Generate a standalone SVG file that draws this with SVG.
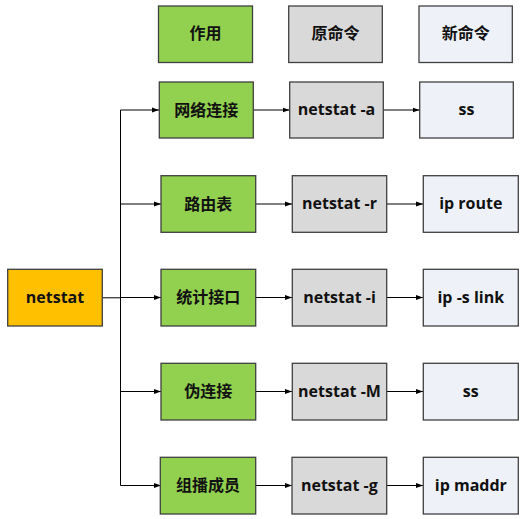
<svg xmlns="http://www.w3.org/2000/svg" width="527" height="519" viewBox="0 0 527 519">
<style>
.b{stroke:#404040;stroke-width:1.3}
.g{fill:#92D050}.y{fill:#D9D9D9}.l{fill:#EEF2F8}.o{fill:#FFC000}
text{font-family:"Open Sans","Noto Sans CJK SC",sans-serif;font-weight:bold;font-size:16px;fill:#111;text-anchor:middle;dominant-baseline:central}
.c{stroke:#000;stroke-width:1;fill:none}
</style>
<defs>
<marker id="a" viewBox="0 0 10 10" refX="10" refY="5" markerWidth="7" markerHeight="7" markerUnits="userSpaceOnUse" orient="auto"><path d="M0,1.5L10,5L0,8.5z" fill="#000"/></marker>
</defs>
<rect width="527" height="519" fill="#fff"/>
<g id="connectors">
<line class="c" x1="102" y1="297.8" x2="120.5" y2="297.8" stroke-width="2"/>
<line class="c" x1="120.5" y1="110" x2="120.5" y2="485.5"/>
<path class="c" d="M120.5,110H159" marker-end="url(#a)"/>
<path class="c" d="M120.5,204H161" marker-end="url(#a)"/>
<path class="c" d="M120.5,297.5H161" marker-end="url(#a)"/>
<path class="c" d="M120.5,391.5H161" marker-end="url(#a)"/>
<path class="c" d="M120.5,485.5H161" marker-end="url(#a)"/>
<path class="c" d="M253.5,110H289.5" marker-end="url(#a)"/>
<path class="c" d="M383.5,110H419.5" marker-end="url(#a)"/>
<path class="c" d="M255.5,204H292" marker-end="url(#a)"/>
<path class="c" d="M386.5,204H423" marker-end="url(#a)"/>
<path class="c" d="M255.5,297.5H292" marker-end="url(#a)"/>
<path class="c" d="M386.5,297.5H423" marker-end="url(#a)"/>
<path class="c" d="M255.5,391.5H292" marker-end="url(#a)"/>
<path class="c" d="M386.5,391.5H423" marker-end="url(#a)"/>
<path class="c" d="M255.5,485.5H292" marker-end="url(#a)"/>
<path class="c" d="M386.5,485.5H423" marker-end="url(#a)"/>
</g>
<g id="h1"><rect class="b g" x="158.5" y="6" width="94" height="56.5"/><text x="205.5" y="33">作用</text></g>
<g id="h2"><rect class="b y" x="288.7" y="6" width="93.6" height="56.5"/><text x="335.5" y="33">原命令</text></g>
<g id="h3"><rect class="b l" x="419" y="6" width="93.3" height="56.5"/><text x="465.7" y="33">新命令</text></g>
<g id="netstat"><rect class="b o" x="7.7" y="269.3" width="94.6" height="56.7"/><text x="55" y="297">netstat</text></g>
<g id="r1a"><rect class="b g" x="159.3" y="82" width="94" height="56"/><text x="206.3" y="109.5">网络连接</text></g>
<g id="r1b"><rect class="b y" x="289.7" y="82" width="93.6" height="56"/><text x="336.5" y="109">netstat -a</text></g>
<g id="r1c"><rect class="b l" x="419.7" y="82" width="93.6" height="56"/><text x="466.5" y="109">ss</text></g>
<g id="r2a"><rect class="b g" x="161" y="175.7" width="94.7" height="56.6"/><text x="208.3" y="203.5">路由表</text></g>
<g id="r2b"><rect class="b y" x="292.3" y="175.7" width="94.4" height="56.6"/><text x="339.5" y="203">netstat -r</text></g>
<g id="r2c"><rect class="b l" x="423.3" y="175.7" width="95" height="56.6"/><text x="470.8" y="203">ip route</text></g>
<g id="r3a"><rect class="b g" x="161" y="269.3" width="94.7" height="56.7"/><text x="208.3" y="297">统计接口</text></g>
<g id="r3b"><rect class="b y" x="292.3" y="269.3" width="94.4" height="56.7"/><text x="339.5" y="296.5">netstat -i</text></g>
<g id="r3c"><rect class="b l" x="423.3" y="269.3" width="95" height="56.7"/><text x="470.8" y="296.5">ip -s link</text></g>
<g id="r4a"><rect class="b g" x="161" y="363.3" width="94.7" height="56.7"/><text x="208.3" y="391">伪连接</text></g>
<g id="r4b"><rect class="b y" x="292.3" y="363.3" width="94.4" height="56.7"/><text x="339.5" y="390.5">netstat -M</text></g>
<g id="r4c"><rect class="b l" x="423.3" y="363.3" width="95" height="56.7"/><text x="470.8" y="390.5">ss</text></g>
<g id="r5a"><rect class="b g" x="160.3" y="457.3" width="95.4" height="56.7"/><text x="208" y="485">组播成员</text></g>
<g id="r5b"><rect class="b y" x="292" y="457.3" width="94.7" height="56.7"/><text x="339.3" y="484.5">netstat -g</text></g>
<g id="r5c"><rect class="b l" x="423.3" y="457.3" width="95" height="56.7"/><text x="470.8" y="484.5">ip maddr</text></g>
</svg>
